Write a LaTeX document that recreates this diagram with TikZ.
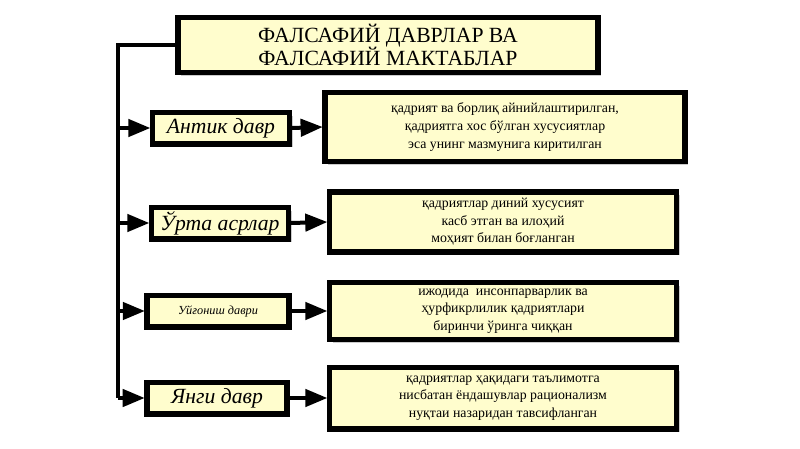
\documentclass[tikz,border=0pt]{standalone}
\usepackage{fontspec}
\setmainfont{Liberation Serif}
\usetikzlibrary{positioning,shadows,arrows}
\definecolor{paleyellow}{RGB}{255,253,205}
\tikzset {
    period box/.style={
        fill=paleyellow,
        draw=black,
        line width=1.6mm,
        rectangle, % Set the shape as a rectangle
        inner sep=0pt,
        drop shadow={shadow xshift=1mm, shadow yshift=-1mm, fill=black!40},
        align=center,
        font=\fontsize{18.5}{21}\selectfont\itshape,
    },
    note box/.style={
        fill=paleyellow,
        draw=black,
        line width=1.6mm,
        rectangle, % Set the shape as a rectangle
        inner sep=0pt,
        drop shadow={shadow xshift=1mm, shadow yshift=-1mm, fill=black!40},
        align=center,
        font=\fontsize{11.8}{15}\selectfont,
    },
    link/.style={line width=1.2mm, -triangle 45},
}
\begin{document}
\begin{tikzpicture}[x=0.03cm, y=-0.03cm]
    \useasboundingbox (0,0) rectangle (800,449);

    \node[note box, minimum width=12.6cm, minimum height=1.65cm,
          font=\fontsize{18.5}{20}\selectfont] (title) at (388,45)
          {ФАЛСАФИЙ ДАВРЛАР ВА\\ФАЛСАФИЙ МАКТАБЛАР};

    \node[period box, minimum width=4.1cm, minimum height=0.95cm] (antik) at (221,128) {Антик давр};
    \node[period box, minimum width=4.1cm, minimum height=0.95cm] (urta) at (220,223) {Ўрта асрлар};
    \node[period box, minimum width=4.25cm, minimum height=0.95cm,
          font=\fontsize{10.5}{13}\selectfont\itshape] (uyg) at (218,311) {Уйғониш даври};
    \node[period box, minimum width=4.2cm, minimum height=0.95cm] (yangi) at (217,398) {Янги давр};

    \node[note box, minimum width=10.8cm, minimum height=2.05cm] (n1) at (505,127)
        {қадрият ва борлиқ айнийлаштирилган,\\қадриятга хос бўлган хусусиятлар\\эса унинг мазмунига киритилган};
    \node[note box, minimum width=10.4cm, minimum height=1.8cm] (n2) at (503,222)
        {қадриятлар диний хусусият\\касб этган ва илоҳий\\моҳият билан боғланган};
    \node[note box, minimum width=10.4cm, minimum height=1.7cm] (n3) at (503,311)
        {ижодида \ инсонпарварлик ва\\ҳурфикрлилик қадриятлари\\биринчи ўринга чиққан};
    \node[note box, minimum width=10.4cm, minimum height=1.85cm] (n4) at (503,398)
        {қадриятлар ҳақидаги таълимотга\\нисбатан ёндашувлар рационализм\\нуқтаи назаридан тавсифланган};

    % spine
    \coordinate (top) at (118,45);
    \coordinate (bot) at (118,398);
    \draw[line width=1.2mm] (title.west) -- (top) -- (bot);

    \foreach \p/\n in {antik/n1, urta/n2, uyg/n3, yangi/n4} {
        \draw[link] (top |- \p.west) -- (\p.west);
        \draw[link] (\p.east) -- (\n.west);
    }
\end{tikzpicture}
\end{document}
